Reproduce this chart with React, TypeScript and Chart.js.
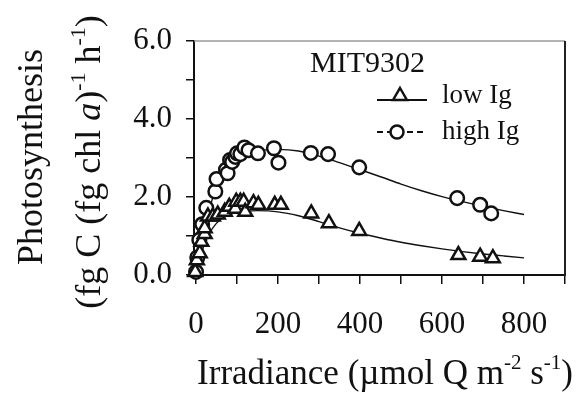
import React, { useEffect, useRef } from "react";
import { Chart, registerables } from "chart.js";

Chart.register(...registerables);

// ---------- data ----------
const lowIgX = [-2, 2, 9, 13, 21, 21, 29, 41, 53, 70, 81, 96, 98, 108, 116, 120, 140, 152, 192, 207, 281, 324, 398, 640, 693, 724];
const lowIgY = [0.08, 0.38, 0.56, 0.85, 1.05, 1.2, 1.5, 1.5, 1.55, 1.62, 1.75, 1.7, 1.88, 1.88, 1.88, 1.62, 1.84, 1.8, 1.8, 1.8, 1.58, 1.33, 1.13, 0.51, 0.47, 0.43];

const highIgX = [0, 3, 8, 15, 25, 47, 50, 73, 77, 83, 88, 96, 100, 108, 118, 128, 151, 190, 201, 280, 322, 398, 637, 693, 720];
const highIgY = [0.08, 0.45, 0.9, 1.3, 1.72, 2.14, 2.46, 2.7, 2.61, 2.95, 2.9, 3.03, 3.12, 3.1, 3.27, 3.2, 3.12, 3.25, 2.88, 3.13, 3.1, 2.76, 1.97, 1.8, 1.58];

const curveX = [0, 10, 20, 30, 50, 75, 100, 150, 200, 250, 300, 350, 400, 450, 500, 550, 600, 650, 700, 750, 800];
const highCurveY = [0, 0.6, 1.15, 1.6, 2.25, 2.75, 3.0, 3.18, 3.22, 3.18, 3.05, 2.88, 2.7, 2.52, 2.33, 2.16, 2.01, 1.88, 1.76, 1.65, 1.55];
const lowCurveY = [0, 0.42, 0.78, 1.02, 1.33, 1.52, 1.61, 1.65, 1.62, 1.52, 1.37, 1.21, 1.07, 0.95, 0.84, 0.75, 0.67, 0.6, 0.54, 0.49, 0.44];

const xTickValues = [0, 100, 200, 300, 400, 500, 600, 700, 800, 900];
const xTickLabels = ["0", "", "200", "", "400", "", "600", "", "800", ""];
const yTickValues = [0, 1, 2, 3, 4, 5, 6];
const yTickLabels = ["0.0", "", "2.0", "", "4.0", "", "6.0"];

const panelTitle = "MIT9302";
const seriesNames = ["low Ig", "high Ig"];

const FONT = '"Liberation Serif", "Times New Roman", serif';

type Run = { t: string; sup?: boolean; it?: boolean };

const xTitleRuns: Run[] = [
  { t: "Irradiance (\u00b5mol Q m" },
  { t: "-2", sup: true },
  { t: " s" },
  { t: "-1", sup: true },
  { t: ")" },
];
const yTitle1: Run[] = [{ t: "Photosynthesis" }];
const yTitle2: Run[] = [
  { t: "(fg C (fg chl " },
  { t: "a", it: true },
  { t: ")" },
  { t: "-1", sup: true },
  { t: " h" },
  { t: "-1", sup: true },
  { t: ")" },
];

function runFont(r: Run, size: number) {
  const s = r.sup ? Math.round(size * 0.6) : size;
  return `${r.it ? "italic " : ""}${s}px ${FONT}`;
}

function drawRich(ctx: CanvasRenderingContext2D, runs: Run[], cx: number, y: number, size: number) {
  let w = 0;
  for (const r of runs) {
    ctx.font = runFont(r, size);
    w += ctx.measureText(r.t).width;
  }
  let x = cx - w / 2;
  ctx.textBaseline = "alphabetic";
  ctx.textAlign = "left";
  for (const r of runs) {
    ctx.font = runFont(r, size);
    ctx.fillText(r.t, x, r.sup ? y - size * 0.42 : y);
    x += ctx.measureText(r.t).width;
  }
}

function tri(ctx: CanvasRenderingContext2D, x: number, y: number, r: number) {
  ctx.beginPath();
  ctx.moveTo(x, y - r);
  ctx.lineTo(x + r * 0.866, y + r * 0.5);
  ctx.lineTo(x - r * 0.866, y + r * 0.5);
  ctx.closePath();
}

const decorPlugin = {
  id: "decor",
  afterDraw(chart: any) {
    const ctx: CanvasRenderingContext2D = chart.ctx;
    const a = chart.chartArea;
    ctx.save();
    // frame top & right
    ctx.strokeStyle = "#9a9a9a";
    ctx.lineWidth = 1.5;
    ctx.beginPath();
    ctx.moveTo(a.left, a.top);
    ctx.lineTo(a.right, a.top);
    ctx.stroke();
    ctx.strokeStyle = "#222";
    ctx.lineWidth = 2;
    ctx.beginPath();
    ctx.moveTo(a.right, a.top);
    ctx.lineTo(a.right, a.bottom + 1);
    ctx.stroke();

    ctx.fillStyle = "#111";
    // x title
    drawRich(ctx, xTitleRuns, 385, 384, 35);
    // y title (rotated)
    ctx.save();
    ctx.translate(42, 157);
    ctx.rotate(-Math.PI / 2);
    drawRich(ctx, yTitle1, 0, 0, 36);
    ctx.restore();
    ctx.save();
    ctx.translate(100, 162);
    ctx.rotate(-Math.PI / 2);
    drawRich(ctx, yTitle2, 0, 0, 36);
    ctx.restore();

    // panel title
    ctx.font = `30px ${FONT}`;
    ctx.textAlign = "left";
    ctx.textBaseline = "alphabetic";
    ctx.fillText(panelTitle, 310, 72);

    // legend
    ctx.strokeStyle = "#111";
    ctx.lineWidth = 1.8;
    ctx.setLineDash([]);
    ctx.beginPath();
    ctx.moveTo(377, 100);
    ctx.lineTo(427, 100);
    ctx.stroke();
    ctx.lineWidth = 2.5;
    tri(ctx, 400, 96, 8);
    ctx.fillStyle = "#fff";
    ctx.fill();
    ctx.stroke();

    ctx.lineWidth = 1.8;
    ctx.setLineDash([6, 4]);
    ctx.beginPath();
    ctx.moveTo(377, 132);
    ctx.lineTo(427, 132);
    ctx.stroke();
    ctx.setLineDash([]);
    ctx.lineWidth = 2.5;
    ctx.beginPath();
    ctx.arc(397, 132, 6.5, 0, Math.PI * 2);
    ctx.fillStyle = "#fff";
    ctx.fill();
    ctx.stroke();

    ctx.fillStyle = "#111";
    ctx.font = `27px ${FONT}`;
    ctx.fillText(seriesNames[0], 442, 103);
    ctx.fillText(seriesNames[1], 442, 139);
    ctx.restore();
  },
};

export default function App() {
  const ref = useRef<HTMLCanvasElement | null>(null);

  useEffect(() => {
    if (!ref.current) return;
    const toPts = (xs: number[], ys: number[]) => xs.map((x, i) => ({ x, y: ys[i] }));
    const chart = new Chart(ref.current, {
      type: "scatter",
      data: {
        datasets: [
          {
            label: seriesNames[0],
            data: toPts(lowIgX, lowIgY),
            pointStyle: "triangle",
            pointRadius: 8,
            pointBorderWidth: 2.5,
            pointBackgroundColor: "#fff",
            pointBorderColor: "#111",
            showLine: false,
            clip: false as any,
            order: 1,
          },
          {
            label: seriesNames[1],
            data: toPts(highIgX, highIgY),
            pointStyle: "circle",
            pointRadius: 6.8,
            pointBorderWidth: 2.5,
            pointBackgroundColor: "#fff",
            pointBorderColor: "#111",
            showLine: false,
            clip: false as any,
            order: 1,
          },
          {
            label: "low fit",
            data: toPts(curveX, lowCurveY),
            showLine: true,
            borderColor: "#111",
            borderWidth: 1.4,
            pointRadius: 0,
            tension: 0.4,
            cubicInterpolationMode: "monotone",
            order: 2,
          },
          {
            label: "high fit",
            data: toPts(curveX, highCurveY),
            showLine: true,
            borderColor: "#111",
            borderWidth: 1.4,
            pointRadius: 0,
            tension: 0.4,
            cubicInterpolationMode: "monotone",
            order: 2,
          },
        ] as any,
      },
      options: {
        animation: false,
        responsive: false,
        maintainAspectRatio: false,
        layout: { padding: { top: 41, right: 11, left: 0, bottom: 0 } },
        plugins: {
          legend: { display: false },
          tooltip: { enabled: false },
        },
        scales: {
          x: {
            type: "linear",
            min: -5,
            max: 900,
            afterBuildTicks: (s: any) => {
              s.ticks = xTickValues.map((v) => ({ value: v }));
            },
            afterFit: (s: any) => {
              s.height = 121;
            },
            ticks: {
              color: "#111",
              font: { family: FONT, size: 31 },
              padding: 22,
              maxRotation: 0,
              autoSkip: false,
              callback: (v: any) => {
                const i = xTickValues.indexOf(Number(v));
                return i >= 0 ? xTickLabels[i] : "";
              },
            },
            grid: {
              display: true,
              drawOnChartArea: false,
              drawTicks: true,
              tickLength: 9,
              color: "#111",
              lineWidth: 1.5,
            },
            border: { display: true, color: "#111", width: 2 },
          },
          y: {
            type: "linear",
            min: 0,
            max: 6,
            afterBuildTicks: (s: any) => {
              s.ticks = yTickValues.map((v) => ({ value: v }));
            },
            afterFit: (s: any) => {
              s.width = 194;
            },
            ticks: {
              color: "#111",
              font: { family: FONT, size: 31 },
              padding: 14,
              autoSkip: false,
              callback: (v: any) => {
                const i = yTickValues.indexOf(Number(v));
                return i >= 0 ? yTickLabels[i] : "";
              },
            },
            grid: {
              display: true,
              drawOnChartArea: false,
              drawTicks: true,
              tickLength: 8,
              color: "#111",
              lineWidth: 1.5,
            },
            border: { display: true, color: "#111", width: 2 },
          },
        },
      },
      plugins: [decorPlugin],
    });
    return () => chart.destroy();
  }, []);

  return (
    <div style={{ position: "absolute", left: 0, top: 0, width: 587, height: 396, background: "#fff" }}>
      <canvas ref={ref} width={587} height={396} style={{ display: "block", width: 587, height: 396 }} />
    </div>
  );
}
